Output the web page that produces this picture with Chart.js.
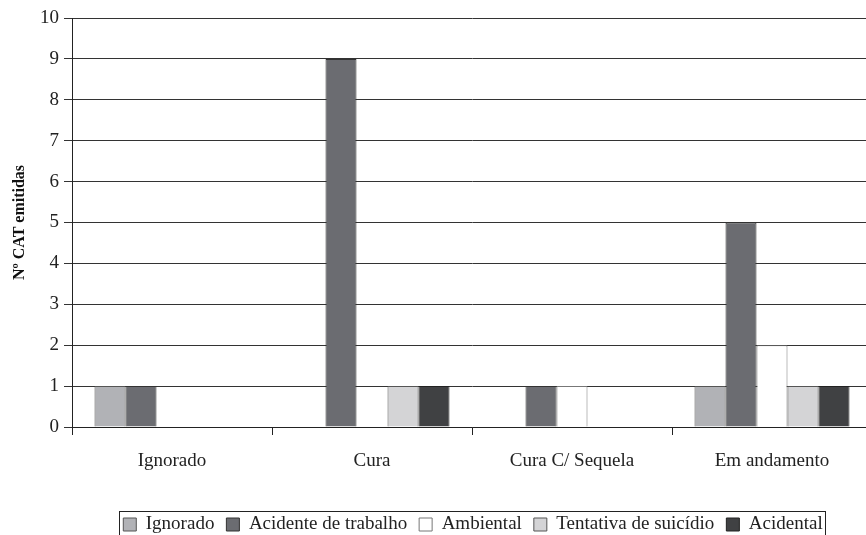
<!DOCTYPE html>
<html>
<head>
<meta charset="utf-8">
<script src="https://cdn.jsdelivr.net/npm/chart.js@4.4.1/dist/chart.umd.min.js"></script>
<style>
  html, body { margin:0; padding:0; background:#fff; overflow:hidden; }
  #wrap { position:relative; width:948px; height:535px; }
</style>
</head>
<body>
<div id="wrap"><canvas id="c"></canvas></div>
<script>
  const categories = ['Ignorado', 'Cura', 'Cura C/ Sequela', 'Em andamento'];
  const ignorado   = [1, 0, 0, 1];
  const acidente   = [1, 9, 1, 5];
  const ambiental  = [0, 0, 1, 2];
  const tentativa  = [0, 1, 0, 1];
  const acidental  = [0, 1, 0, 1];
  const yTitle = 'Nº CAT emitidas';

  const FONT = '"Liberation Serif", "Times New Roman", serif';

  function ds(label, data, fill, border){
    return { label: label, data: data, backgroundColor: fill, borderColor: border, borderWidth: 1,
             categoryPercentage: 0.775, barPercentage: 1 };
  }

  // nudge the legend: the source centres it under the whole (cropped) plot
  const legendShift = {
    id: 'legendShift',
    afterLayout(chart){
      const lg = chart.legend; if(!lg) return;
      lg.left += 34; lg.right += 34;
      lg.top += 9; lg.bottom += 9;
    }
  };

  // box round the legend (its bottom edge runs off the page, like the source)
  const legendBox = {
    id: 'legendBox',
    afterDraw(chart){
      const lg = chart.legend; if(!lg || !lg.legendHitBoxes.length) return;
      const hb = lg.legendHitBoxes;
      const x0 = hb[0].left - 4, x1 = hb[hb.length-1].left + hb[hb.length-1].width + 3;
      const y0 = hb[0].top - 4, y1 = chart.height + 10;
      const ctx = chart.ctx; ctx.save();
      ctx.strokeStyle = '#222'; ctx.lineWidth = 1;
      ctx.strokeRect(Math.round(x0)+0.5, Math.round(y0)+0.5, Math.round(x1-x0), Math.round(y1-y0));
      ctx.restore();
    }
  };

  new Chart(document.getElementById('c'), {
    type: 'bar',
    data: {
      labels: categories,
      datasets: [
        ds('Ignorado', ignorado, '#b1b2b6', '#555'),
        ds('Acidente de trabalho', acidente, '#6b6c71', '#333'),
        ds('Ambiental', ambiental, '#ffffff', '#777'),
        ds('Tentativa de suicídio', tentativa, '#d4d4d6', '#555'),
        ds('Acidental', acidental, '#404143', '#222')
      ]
    },
    options: {
      responsive: true, maintainAspectRatio: false, animation: false,
      layout: { padding: { left: 6, right: 76, top: 18, bottom: 0 } },
      plugins: {
        tooltip: { enabled: false },
        legend: {
          position: 'bottom',
          labels: {
            font: { family: FONT, size: 19 }, color: '#222',
            boxWidth: 13, boxHeight: 13, padding: 12
          }
        }
      },
      scales: {
        x: {
          grid: { drawOnChartArea: false, color: '#222', tickLength: 8, offset: true },
          border: { color: '#222' },
          ticks: { font: { family: FONT, size: 19 }, color: '#222', padding: 15, maxRotation: 0 },
          afterFit(s){ s.height = 67; }
        },
        y: {
          min: 0, max: 10,
          ticks: { stepSize: 1, font: { family: FONT, size: 19 }, color: '#222', padding: 5 },
          grid: { color: '#333', tickLength: 8 },
          border: { color: '#222' },
          title: { display: true, text: yTitle, font: { family: FONT, size: 16, weight: 'bold' }, color: '#111', padding: 4 },
          afterFit(s){ s.width = 66; }
        }
      }
    },
    plugins: [legendShift, legendBox]
  });
</script>
</body>
</html>
